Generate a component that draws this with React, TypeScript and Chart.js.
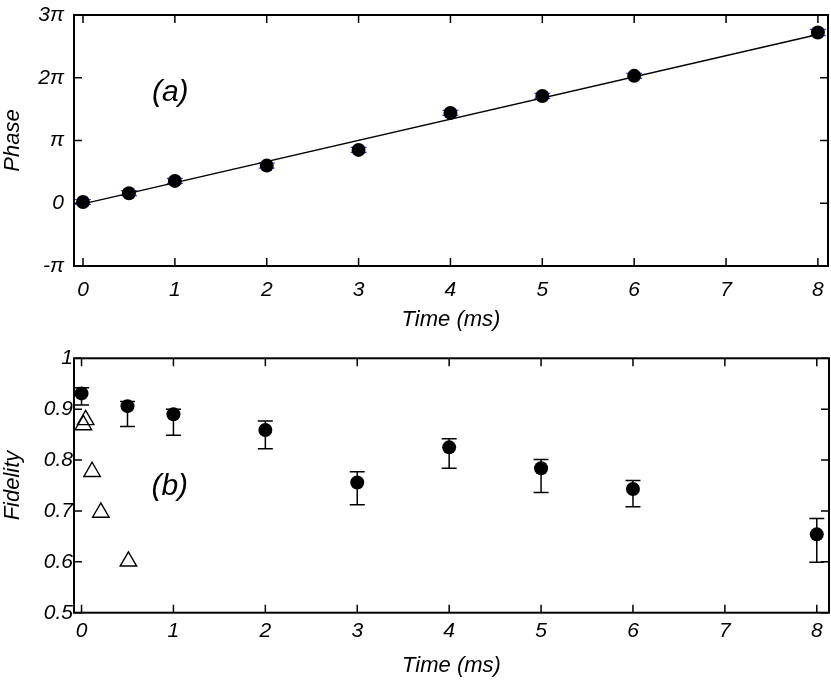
import React, { useEffect, useRef } from "react";
import { Chart, registerables } from "chart.js";

Chart.register(...registerables);

// ---------- data ----------
const timeTicks = [0, 1, 2, 3, 4, 5, 6, 7, 8];

const phaseTickValues = [-1, 0, 1, 2, 3]; // in units of π
const phaseTickLabels = ["-π", "0", "π", "2π", "3π"];

const fidelityTickValues = [0.5, 0.6, 0.7, 0.8, 0.9, 1];
const fidelityTickLabels = ["0.5", "0.6", "0.7", "0.8", "0.9", "1"];

// panel (a): phase (units of π) vs time (ms)
const phaseTime = [0, 0.5, 1, 2, 3, 4, 5, 6, 8];
const phaseValue = [0.02, 0.16, 0.356, 0.6, 0.85, 1.44, 1.71, 2.03, 2.72];
const phaseError = [0.04, 0.04, 0.04, 0.04, 0.04, 0.04, 0.04, 0.04, 0.05];

// linear fit
const fitTime = [0, 8];
const fitPhase = [-0.01, 2.69];

// panel (b): fidelity vs time (ms)
const fidTime = [0, 0.5, 1, 2, 3, 4, 5, 6, 8];
const fidValue = [0.931, 0.906, 0.89, 0.859, 0.756, 0.825, 0.784, 0.743, 0.654];
const fidUpper = [0.942, 0.915, 0.9, 0.877, 0.777, 0.842, 0.801, 0.76, 0.685];
const fidLower = [0.908, 0.866, 0.849, 0.822, 0.712, 0.784, 0.736, 0.708, 0.599];

// open triangles
const triTime = [0.02, 0.045, 0.115, 0.21, 0.51];
const triValue = [0.869, 0.879, 0.777, 0.697, 0.601];

// ---------- styling helpers ----------
const FAMILY = "'Liberation Sans', Arial, sans-serif";
const tickFont = { family: FAMILY, size: 21, style: "italic" as const };
const titleFont = { family: FAMILY, size: 22, style: "italic" as const };

function zeroPadding(s: any) {
  s.paddingTop = 0;
  s.paddingBottom = 0;
  s.paddingLeft = 0;
  s.paddingRight = 0;
}

const framePlugin = {
  id: "frameTicks",
  afterDatasetsDraw(chart: any) {
    const { ctx, chartArea } = chart;
    const { left, right, top, bottom } = chartArea;
    const xs = chart.scales.x;
    const ys = chart.scales.y;
    ctx.save();
    ctx.strokeStyle = "#000";
    ctx.lineWidth = 1.5;
    ctx.beginPath();
    xs.ticks.forEach((t: any) => {
      const px = xs.getPixelForValue(t.value);
      ctx.moveTo(px, bottom);
      ctx.lineTo(px, bottom - 8);
      ctx.moveTo(px, top);
      ctx.lineTo(px, top + 8);
    });
    ys.ticks.forEach((t: any) => {
      const py = ys.getPixelForValue(t.value);
      ctx.moveTo(left, py);
      ctx.lineTo(left + 8, py);
      ctx.moveTo(right, py);
      ctx.lineTo(right - 8, py);
    });
    ctx.stroke();
    ctx.lineWidth = 2;
    ctx.strokeRect(left, top, right - left, bottom - top);
    ctx.restore();
  },
};

function makeErrorBars(
  xs: number[],
  lows: number[],
  highs: number[],
  color: string,
  capWidth: number,
  lineWidth: number
) {
  return {
    id: "errorBars",
    beforeDatasetsDraw(chart: any) {
      const { ctx } = chart;
      const sx = chart.scales.x;
      const sy = chart.scales.y;
      ctx.save();
      ctx.strokeStyle = color;
      ctx.lineWidth = lineWidth;
      ctx.beginPath();
      xs.forEach((xv, i) => {
        const px = sx.getPixelForValue(xv);
        const pLo = sy.getPixelForValue(lows[i]);
        const pHi = sy.getPixelForValue(highs[i]);
        ctx.moveTo(px, pLo);
        ctx.lineTo(px, pHi);
        ctx.moveTo(px - capWidth / 2, pLo);
        ctx.lineTo(px + capWidth / 2, pLo);
        ctx.moveTo(px - capWidth / 2, pHi);
        ctx.lineTo(px + capWidth / 2, pHi);
      });
      ctx.stroke();
      ctx.restore();
    },
  };
}

function makePanelLabel(text: string, xv: number, yv: number) {
  return {
    id: "panelLabel",
    afterDatasetsDraw(chart: any) {
      const { ctx } = chart;
      const px = chart.scales.x.getPixelForValue(xv);
      const py = chart.scales.y.getPixelForValue(yv);
      ctx.save();
      ctx.fillStyle = "#000";
      ctx.font = `italic 30px ${FAMILY}`;
      ctx.textAlign = "center";
      ctx.textBaseline = "middle";
      ctx.fillText(text, px, py);
      ctx.restore();
    },
  };
}

function baseX(min: number, max: number, axisHeight: number, tickPad: number, titlePad: number) {
  return {
    type: "linear" as const,
    position: "bottom" as const,
    min,
    max,
    afterBuildTicks: (s: any) => {
      s.ticks = timeTicks.map((v) => ({ value: v }));
    },
    afterFit: (s: any) => {
      s.height = axisHeight;
      zeroPadding(s);
    },
    grid: { display: false, drawTicks: false },
    border: { display: false },
    ticks: {
      padding: tickPad,
      color: "#000",
      font: tickFont,
      maxRotation: 0,
      callback: (v: any) => String(v),
    },
    title: {
      display: true,
      text: "Time (ms)",
      color: "#000",
      font: titleFont,
      padding: { top: 0, bottom: titlePad },
    },
  };
}

function PhaseChart() {
  const ref = useRef<HTMLCanvasElement>(null);
  useEffect(() => {
    if (!ref.current) return;
    const phaseLow = phaseValue.map((v, i) => v - phaseError[i]);
    const phaseHigh = phaseValue.map((v, i) => v + phaseError[i]);
    const chart = new Chart(ref.current, {
      type: "scatter",
      data: {
        datasets: [
          {
            label: "Phase",
            data: phaseTime.map((t, i) => ({ x: t, y: phaseValue[i] })),
            pointRadius: 7,
            pointBackgroundColor: "#000",
            pointBorderColor: "#000",
            pointBorderWidth: 0,
            order: 0,
          },
          {
            type: "line",
            label: "Fit",
            data: fitTime.map((t, i) => ({ x: t, y: fitPhase[i] })),
            borderColor: "#000",
            borderWidth: 1.5,
            pointRadius: 0,
            fill: false,
            tension: 0,
            order: 1,
          } as any,
        ],
      },
      options: {
        animation: false,
        responsive: false,
        layout: { autoPadding: false, padding: { top: 15, right: 3, left: 0, bottom: 0 } },
        plugins: { legend: { display: false }, tooltip: { enabled: false } },
        scales: {
          x: baseX(-0.098, 8.11, 74, 12, 7) as any,
          y: {
            type: "linear",
            min: -1,
            max: 3,
            afterBuildTicks: (s: any) => {
              s.ticks = phaseTickValues.map((v) => ({ value: v }));
            },
            afterFit: (s: any) => {
              s.width = 74;
              zeroPadding(s);
            },
            grid: { display: false, drawTicks: false },
            border: { display: false },
            ticks: {
              padding: 10,
              color: "#000",
              font: tickFont,
              callback: (v: any) => phaseTickLabels[phaseTickValues.indexOf(Number(v))],
            },
            title: {
              display: true,
              text: "Phase",
              color: "#000",
              font: titleFont,
              padding: { top: 0, bottom: 0 },
            },
          },
        },
      },
      plugins: [
        makeErrorBars(phaseTime, phaseLow, phaseHigh, "#3b3bff", 16, 1.2),
        framePlugin,
        makePanelLabel("(a)", 0.95, 1.755),
      ],
    });
    return () => chart.destroy();
  }, []);
  return (
    <canvas
      ref={ref}
      width={831}
      height={340}
      style={{ position: "absolute", left: 0, top: 0, width: 831, height: 340 }}
    />
  );
}

function FidelityChart() {
  const ref = useRef<HTMLCanvasElement>(null);
  useEffect(() => {
    if (!ref.current) return;
    const chart = new Chart(ref.current, {
      type: "scatter",
      data: {
        datasets: [
          {
            label: "Fidelity",
            data: fidTime.map((t, i) => ({ x: t, y: fidValue[i] })),
            pointRadius: 7,
            pointBackgroundColor: "#000",
            pointBorderColor: "#000",
            pointBorderWidth: 0,
            order: 0,
          },
          {
            label: "Reference",
            data: triTime.map((t, i) => ({ x: t, y: triValue[i] })),
            pointStyle: "triangle",
            pointRadius: 9.5,
            pointBackgroundColor: "rgba(0,0,0,0)",
            pointBorderColor: "#000",
            pointBorderWidth: 1.4,
            order: 1,
          },
        ],
      },
      options: {
        animation: false,
        responsive: false,
        layout: { autoPadding: false, padding: { top: 18.3, right: 2, left: 0, bottom: 0 } },
        plugins: { legend: { display: false }, tooltip: { enabled: false } },
        scales: {
          x: baseX(-0.082, 8.133, 68.3, 6, 2) as any,
          y: {
            type: "linear",
            min: 0.5,
            max: 1,
            afterBuildTicks: (s: any) => {
              s.ticks = fidelityTickValues.map((v) => ({ value: v }));
            },
            afterFit: (s: any) => {
              s.width = 74;
              zeroPadding(s);
            },
            grid: { display: false, drawTicks: false },
            border: { display: false },
            ticks: {
              padding: 1,
              color: "#000",
              font: tickFont,
              callback: (v: any) => fidelityTickLabels[fidelityTickValues.indexOf(Number(v))],
            },
            title: {
              display: true,
              text: "Fidelity",
              color: "#000",
              font: titleFont,
              padding: { top: 0, bottom: 0 },
            },
          },
        },
      },
      plugins: [
        makeErrorBars(fidTime, fidLower, fidUpper, "#000", 15, 1.5),
        framePlugin,
        makePanelLabel("(b)", 0.96, 0.747),
      ],
    });
    return () => chart.destroy();
  }, []);
  return (
    <canvas
      ref={ref}
      width={831}
      height={341}
      style={{ position: "absolute", left: 0, top: 340, width: 831, height: 341 }}
    />
  );
}

export default function App() {
  return (
    <div
      style={{
        position: "absolute",
        left: 0,
        top: 0,
        width: 831,
        height: 681,
        background: "#fff",
        overflow: "hidden",
      }}
    >
      <PhaseChart />
      <FidelityChart />
    </div>
  );
}
